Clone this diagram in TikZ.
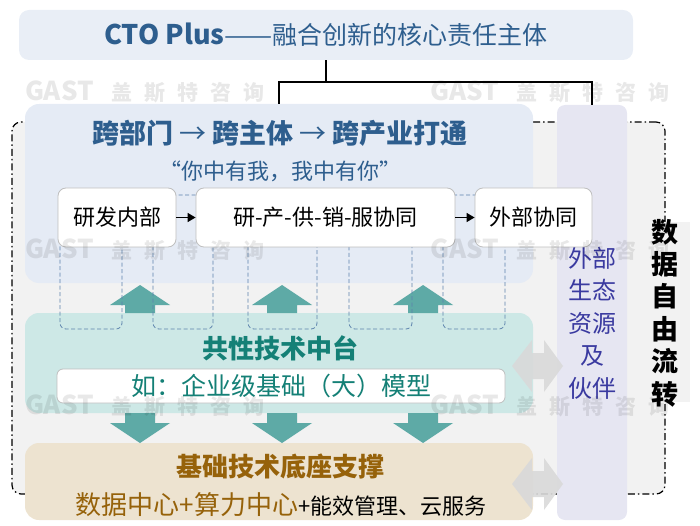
\documentclass[tikz,border=0pt]{standalone}
\usepackage{fontspec}
\setmainfont{Noto Sans CJK SC}
\usetikzlibrary{arrows.meta}

\definecolor{ctobg}{RGB}{233,238,246}
\definecolor{ctoblue}{RGB}{46,94,142}
\definecolor{crossbg}{RGB}{229,235,245}
\definecolor{techbg}{RGB}{205,232,230}
\definecolor{techtxt}{RGB}{20,128,118}
\definecolor{tealarrow}{RGB}{94,170,166}
\definecolor{basebg}{RGB}{237,227,208}
\definecolor{basetxt}{RGB}{150,98,10}
\definecolor{extbg}{RGB}{230,230,242}
\definecolor{exttxt}{RGB}{58,58,160}
\definecolor{framebg}{RGB}{242,242,242}
\definecolor{dashblue}{RGB}{92,130,172}

\begin{document}
\begin{tikzpicture}[x=1pt, y=-1pt,
  panel/.style={rounded corners=14pt, inner sep=0pt},
  whitebox/.style={draw=black!25, fill=white, rounded corners=8pt, line width=0.8pt, inner sep=0pt},
  bracket/.style={draw=dashblue, dash pattern=on 4pt off 2.5pt, line width=0.8pt, rounded corners=6pt},
  flowarrow/.style={line width=1.4pt, -{Triangle[length=8pt,width=9pt]}},
  linkarrow/.style={fill=black!15, fill opacity=0.9},
  gastwm/.style={anchor=west, text=black, text opacity=0.09, inner sep=0pt}
]
\useasboundingbox (0,0) rectangle (700,526);

% dash-dot frame
\node[draw, fill=framebg, rounded corners=9pt, line width=1.2pt,
  dash pattern=on 7pt off 3pt on 1.5pt off 3pt,
  minimum width=653pt, minimum height=372pt, inner sep=0pt] (flow) at (338.5,308) {};
\node[fill=framebg, minimum width=50pt, minimum height=180pt, inner sep=0pt] (databox) at (665,312) {};
\node[align=center, font=\fontsize{27}{32.4}\selectfont\bfseries] (data) at (665,313) {数\\据\\自\\由\\流\\转};

% top
\node[panel, fill=ctobg, rounded corners=10pt, minimum width=614pt, minimum height=50pt,
  text=ctoblue, font=\fontsize{25}{30}\selectfont] (cto) at (326,35) {{\bfseries\fontsize{27}{30}\selectfont CTO Plus}\scalebox{1.15}[1]{——}融合创新的核心责任主体};

% external partners
\node[panel, fill=extbg, rounded corners=8pt, minimum width=70pt, minimum height=415pt] (ext) at (592,312.5) {};
\node[text=exttxt, align=center, font=\fontsize{24}{32.5}\selectfont] (extlabel) at (592,323) {外部\\生态\\资源\\及\\伙伴};

% layers
\node[panel, fill=crossbg, minimum width=508pt, minimum height=179pt] (cross) at (279,193.5) {};
\node[panel, fill=techbg, minimum width=508pt, minimum height=100pt] (tech) at (279,363) {};
\node[panel, fill=basebg, minimum width=508pt, minimum height=77pt] (base) at (279,481.5) {};

\coordinate (fork) at (326,82);
\draw[line width=1.5pt] (cto.south) -- (fork);
\draw[line width=1.5pt] (cross.north) |- (fork) -| (ext.north);

\node[text=ctoblue, font=\fontsize{27}{30}\selectfont\bfseries] (crosstitle) at (280,133) {跨部门 {\mdseries →} 跨主体 {\mdseries →} 跨产业打通};
\node[text=ctoblue, font=\fontsize{22}{26}\selectfont] (motto) at (280,171) {“你中有我，我中有你”};

% fat arrows
\foreach \ax in {140,282,423} {
  \fill[tealarrow] (\ax-15,313) -- (\ax-15,305) -- (\ax-30,305) -- (\ax,285) -- (\ax+30,305) -- (\ax+15,305) -- (\ax+15,313) -- cycle;
  \fill[tealarrow] (\ax-15,413) -- (\ax-15,423) -- (\ax-30,423) -- (\ax,443) -- (\ax+30,423) -- (\ax+15,423) -- (\ax+15,413) -- cycle;
}

\foreach \l/\r in {60/122, 153/213, 248/317, 349/412, 443/505}
  \draw[bracket] (\l,195) rectangle (\r,329);

\node[whitebox, minimum width=118pt, minimum height=59pt, font=\fontsize{22}{26}\selectfont] (rd) at (117,217.5) {研发内部};
\node[whitebox, minimum width=259pt, minimum height=59pt, font=\fontsize{22}{26}\selectfont] (chain) at (325.5,217.5) {研-产-供-销-服协同};
\node[whitebox, minimum width=117pt, minimum height=59pt, font=\fontsize{22}{26}\selectfont] (partner) at (533.5,217.5) {外部协同};
\draw[flowarrow] (rd) -- (chain);
\draw[flowarrow] (chain) -- (partner);

\node[text=techtxt, font=\fontsize{26}{30}\selectfont\bfseries] (techtitle) at (280,348) {共性技术中台};
\node[whitebox, rounded corners=6pt, minimum width=448pt, minimum height=34pt,
  text=techtxt, font=\fontsize{25}{30}\selectfont] (model) at (281,386) {如：企业级基础（大）模型};

\node[text=basetxt, font=\fontsize{26}{30}\selectfont\bfseries] (basetitle) at (280,466) {基础技术底座支撑};
\node[font=\fontsize{22}{26}\selectfont] (baseitems) at (281,505) {{\color{basetxt}\fontsize{26}{30}\selectfont 数据中心+算力中心}+能效管理、云服务};

% links to partners
\foreach \ay in {366,484}
  \fill[linkarrow] (512,\ay) -- (532,\ay-26) -- (532,\ay-13) -- (544,\ay-13) -- (544,\ay-26) -- (563,\ay)
    -- (544,\ay+26) -- (544,\ay+13) -- (532,\ay+13) -- (532,\ay+26) -- cycle;

% watermark
\foreach \wx/\wy in {25/92, 430/92, 25/250, 430/250, 25/406, 430/406}
  \node[gastwm] (wm-\wx-\wy) at (\wx,\wy) {\bfseries\fontsize{26}{26}\selectfont GAST\hspace{18pt}\fontsize{21}{21}\selectfont 盖\hspace{12pt}斯\hspace{12pt}特\hspace{12pt}咨\hspace{12pt}询};

\end{tikzpicture}
\end{document}
